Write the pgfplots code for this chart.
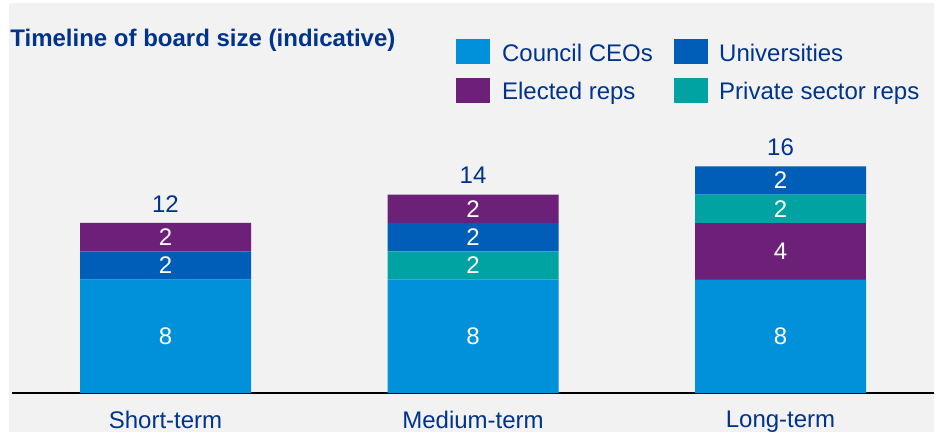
\documentclass[border=0pt]{standalone}
\usepackage{fontspec}
\setmainfont{Liberation Sans}
\usepackage{pgfplots}
\pgfplotsset{compat=1.18}
\usetikzlibrary{backgrounds}
\definecolor{ceo}{HTML}{0091DA}
\definecolor{uni}{HTML}{005EB8}
\definecolor{elec}{HTML}{6D2077}
\definecolor{priv}{HTML}{00A3A1}
\definecolor{txt}{HTML}{00338D}
\definecolor{bg}{HTML}{F2F2F2}

\pgfplotsset{
    boardaxis/.style={
        x=153.75pt, y=7.085pt,
        xmin=-0.5, xmax=2.5, ymin=0, ymax=16,
        clip=false,
        /pgf/number format/assume math mode=true,
    },
}

\begin{document}
\begin{tikzpicture}[font=\fontsize{12pt}{14pt}\selectfont]
\begin{axis}[
    boardaxis,
    ybar stacked, bar width=85.5pt,
    axis x line*=bottom, axis y line=none,
    x axis line style={line width=1pt, -},
    xtick={0,1,2},
    xticklabels={Short-term, Medium-term, Long-term},
    major tick length=0pt,
    xticklabel style={text=txt, yshift=-5.5pt},
    legend columns=2,
    legend cell align=left,
    legend image code/.code={\fill[#1] (0pt,-1.95pt) rectangle (17pt,10.55pt);},
    legend style={at={(0.4821,1.5602)}, anchor=north west, draw=none, fill=none,
        inner sep=0pt, outer sep=0pt, row sep=6.5pt,
        nodes={inner sep=0pt, text=txt, yshift=3pt},
        /tikz/every odd column/.append style={column sep=5.8pt},
        /tikz/every even column/.append style={column sep=10.4pt}},
    nodes near coords={\pgfmathfloatifflags{\pgfplotspointmeta}{0}{}{\pgfmathprintnumber{\pgfplotspointmeta}}},
    every node near coord/.append style={text=white, anchor=center},
]
\addlegendimage{fill=ceo, draw=none}\addlegendentry{Council CEOs}
\addlegendimage{fill=uni, draw=none}\addlegendentry{Universities}
\addlegendimage{fill=elec, draw=none}\addlegendentry{Elected reps}
\addlegendimage{fill=priv, draw=none}\addlegendentry{Private sector reps}

% Council CEOs
\addplot[fill=ceo, draw=none] coordinates {(0,8) (1,8) (2,8)};
% Elected reps (lower position, long-term)
\addplot[fill=elec, draw=none] coordinates {(0,0) (1,0) (2,4)};
% Private sector reps
\addplot[fill=priv, draw=none] coordinates {(0,0) (1,2) (2,2)};
% Universities
\addplot[fill=uni, draw=none] coordinates {(0,2) (1,2) (2,2)};
% Elected reps (top position)
\addplot[fill=elec, draw=none] coordinates {(0,2) (1,2) (2,0)};

\node[anchor=base west, inner sep=0pt, text=txt, font=\fontsize{12pt}{14pt}\selectfont\bfseries]
    at (axis cs:-0.5057,24.44) {Timeline of board size (indicative)};
\coordinate (picsw) at (axis cs:-0.53821,-2.8934);
\coordinate (picne) at (axis cs:2.50569,27.7346);
\coordinate (bgsw) at (axis cs:-0.50894,-2.7523);
\coordinate (bgne) at (axis cs:2.49919,27.523);
\end{axis}

% totals above the bars
\begin{axis}[
    boardaxis, hide axis,
    ybar, bar width=85.5pt, bar shift=0pt,
    nodes near coords,
    every node near coord/.append style={text=txt, anchor=south, inner sep=0pt, yshift=5.2pt},
]
\addplot[draw=none, fill=none] coordinates {(0,12) (1,14) (2,16)};
\end{axis}

\begin{scope}[on background layer]
\fill[white] (picsw) rectangle (picne);
\fill[bg] (bgsw) rectangle (bgne);
\end{scope}
\pgfresetboundingbox
\path[use as bounding box] (picsw) rectangle (picne);
\end{tikzpicture}
\end{document}
